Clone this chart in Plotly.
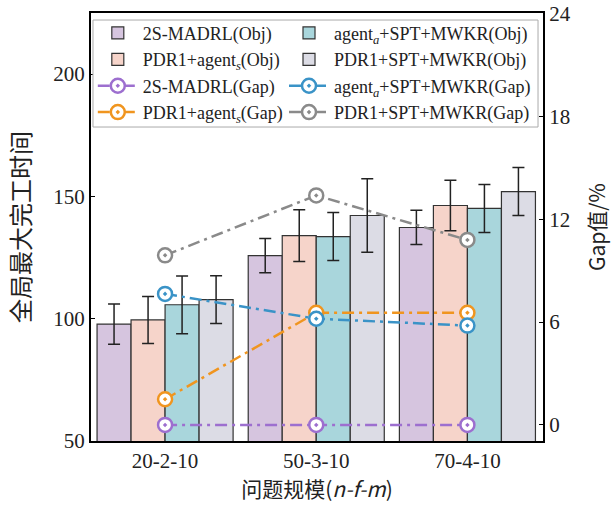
import plotly.graph_objects as go

categories = ["20-2-10", "50-3-10", "70-4-10"]

# Objective (makespan) bars: mean and error
obj_2s = [97.8, 125.8, 137.3]
err_2s = [8.2, 7.0, 7.0]
obj_pdr_agent = [99.5, 134.0, 146.3]
err_pdr_agent = [9.6, 10.6, 10.3]
obj_agent_spt = [105.7, 133.6, 145.1]
err_agent_spt = [11.8, 9.8, 9.8]
obj_pdr_spt = [107.8, 142.2, 152.0]
err_pdr_spt = [9.8, 15.0, 9.8]

# Gap values (%)
gap_2s = [0.0, 0.0, 0.0]
gap_pdr_agent = [1.5, 6.55, 6.55]
gap_agent_spt = [7.65, 6.2, 5.8]
gap_pdr_spt = [9.9, 13.4, 10.8]

bar_colors = ["#d6c5df", "#f6d4ca", "#a9d6dc", "#dcdce5"]
line_colors = ["#9d6fcf", "#f0951f", "#3a93c7", "#8a8a8a"]

FONT = "Liberation Serif, Times New Roman, Noto Sans CJK SC, serif"
CJK = "Noto Sans CJK SC, Liberation Serif, serif"

names_obj = ["2S-MADRL(Obj)", "PDR1+agent<sub><i>s</i></sub>(Obj)",
             "agent<sub><i>a</i></sub>+SPT+MWKR(Obj)", "PDR1+SPT+MWKR(Obj)"]
names_gap = ["2S-MADRL(Gap)", "PDR1+agent<sub><i>s</i></sub>(Gap)",
             "agent<sub><i>a</i></sub>+SPT+MWKR(Gap)", "PDR1+SPT+MWKR(Gap)"]
# left legend column: series 0,1 ; right legend column: series 2,3
legend_of = ["legend", "legend", "legend2", "legend2"]

fig = go.Figure()
xs = list(range(len(categories)))
objs = [obj_2s, obj_pdr_agent, obj_agent_spt, obj_pdr_spt]
errs = [err_2s, err_pdr_agent, err_agent_spt, err_pdr_spt]
for i in range(4):
    fig.add_trace(go.Bar(
        x=xs, y=objs[i], name=names_obj[i], legend=legend_of[i], legendrank=i + 1,
        marker=dict(color=bar_colors[i], line=dict(color="#333333", width=1.2)),
        error_y=dict(type="data", array=errs[i], color="#222222", thickness=1.5, width=6),
        yaxis="y",
    ))

gaps = [gap_2s, gap_pdr_agent, gap_agent_spt, gap_pdr_spt]
for i in range(4):
    fig.add_trace(go.Scatter(
        x=xs, y=gaps[i], name=names_gap[i], legend=legend_of[i], legendrank=i + 5,
        mode="lines+markers", yaxis="y2",
        line=dict(color=line_colors[i], width=2.5, dash="12px,5px,3px,5px"),
        marker=dict(symbol="circle-dot", size=14, color="white",
                    line=dict(color=line_colors[i], width=2.5)),
    ))

legend_common = dict(
    orientation="v", xanchor="left", yanchor="top",
    bgcolor="rgba(0,0,0,0)", borderwidth=0,
    font=dict(family=FONT, size=18, color="#222222"),
    tracegroupgap=0, itemwidth=40, traceorder="normal",
)

fig.update_layout(
    width=611, height=512,
    margin=dict(l=91, r=68, t=13, b=71, autoexpand=False),
    paper_bgcolor="white", plot_bgcolor="white",
    barmode="group", bargap=0.1, bargroupgap=0,
    font=dict(family=FONT, size=18, color="#222222"),
    showlegend=True,
    legend=dict(x=0.004, y=0.996, **legend_common),
    legend2=dict(x=0.427, y=0.996, **legend_common),
    shapes=[dict(type="rect", xref="paper", yref="paper",
                 x0=0.0044, x1=0.989, y0=0.7336, y1=0.9836,
                 line=dict(color="#aaaaaa", width=1), fillcolor="white",
                 layer="above")],
    xaxis=dict(
        tickmode="array", tickvals=xs, ticktext=categories, automargin=False,
        range=[-0.49, 2.5], showline=True, linecolor="black", linewidth=2,
        mirror=True, ticks="", tickfont=dict(size=21),
        title=dict(text="问题规模(<i>n-f-m</i>)", font=dict(family=CJK, size=21), standoff=10),
        showgrid=False, zeroline=False,
    ),
    yaxis=dict(
        range=[50, 225], tickvals=[50, 100, 150, 200], automargin=False,
        showline=True, linecolor="black", linewidth=2, mirror=False,
        ticks="inside", ticklen=4, tickcolor="black", tickfont=dict(size=21),
        title=dict(text="全局最大完工时间", font=dict(family=CJK, size=24), standoff=16),
        showgrid=False, zeroline=False,
    ),
    yaxis2=dict(
        range=[-0.94, 24.05], tickvals=[0, 6, 12, 18, 24], automargin=False,
        overlaying="y", side="right",
        showline=True, linecolor="black", linewidth=2,
        ticks="inside", ticklen=4, tickcolor="black", tickfont=dict(size=21),
        title=dict(text="Gap值/%", font=dict(family=CJK, size=21), standoff=28),
        showgrid=False, zeroline=False,
    ),
)

fig.write_html("out.html")
